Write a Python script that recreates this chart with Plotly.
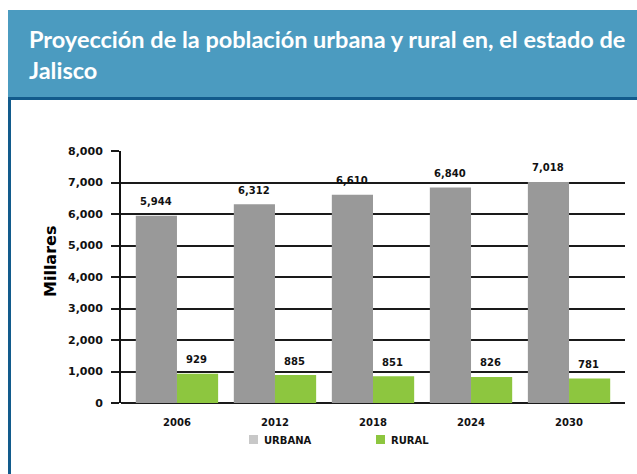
import plotly.graph_objects as go

# Population projection (thousands) for Jalisco
years = ["2006", "2012", "2018", "2024", "2030"]
urbana = [5944, 6312, 6610, 6840, 7018]
rural = [929, 885, 851, 826, 781]
y_ticks = [0, 1000, 2000, 3000, 4000, 5000, 6000, 7000, 8000]
series_names = ["URBANA", "RURAL"]

W, H = 637, 474
L, R, T, B = 121, 12, 151, 71
PW, PH = W - L - R, H - T - B


def px(x):
    return (x - L) / PW


def py(y):
    return (H - B - y) / PH


BAR_URB = "#999999"
BAR_RUR = "#8dc63f"
KEY_COLORS = ["#c8c8c8", BAR_RUR]
FONT = "DejaVu Sans"
LBL = dict(family=FONT, size=10, color="#111111", weight="bold")

fig = go.Figure()
fig.add_bar(x=years, y=urbana, name=series_names[0], marker_color=BAR_URB,
            marker_line_width=0, showlegend=False, hoverinfo="y")
fig.add_bar(x=years, y=rural, name=series_names[1], marker_color=BAR_RUR,
            marker_line_width=0, showlegend=False, hoverinfo="y")

annotations = []
for i in range(len(years)):
    annotations.append(dict(x=i - 0.21, y=urbana[i], xref="x", yref="y", text=f"{urbana[i]:,}",
                            showarrow=False, yshift=14, font=LBL))
    annotations.append(dict(x=i + 0.2, y=rural[i], xref="x", yref="y", text=f"{rural[i]:,}",
                            showarrow=False, yshift=14, font=LBL))

# header title
annotations.append(dict(
    x=px(27), y=py(54), xref="paper", yref="paper", xanchor="left", yanchor="middle",
    align="left", showarrow=False,
    text="Proyección de la población urbana y rural en, el estado de<br>Jalisco",
    font=dict(family="Lato", size=23.5, color="white", weight="bold"),
))
# axis title
annotations.append(dict(
    x=px(50), y=py(262), xref="paper", yref="paper", xanchor="center", yanchor="middle",
    textangle=-90, showarrow=False,
    text="Millares", font=dict(family=FONT, size=16, color="black", weight="bold"),
))

shapes = [
    dict(type="rect", xref="paper", yref="paper", x0=px(8), x1=px(W + 2), y0=py(97), y1=py(10),
         fillcolor="#4b9bc0", line_width=0, layer="below"),
    dict(type="rect", xref="paper", yref="paper", x0=px(8), x1=px(W + 2), y0=py(100), y1=py(97),
         fillcolor="#125b8c", line_width=0, layer="below"),
    dict(type="rect", xref="paper", yref="paper", x0=px(8), x1=px(11), y0=py(H + 2), y1=py(97),
         fillcolor="#125b8c", line_width=0, layer="below"),
]

# series key below the axis
for k, (nm, col) in enumerate(zip(series_names, KEY_COLORS)):
    x0 = 249 + 127 * k
    shapes.append(dict(type="rect", xref="paper", yref="paper",
                       x0=px(x0), x1=px(x0 + 9), y0=py(444), y1=py(435),
                       fillcolor=col, line_width=0))
    annotations.append(dict(x=px(x0 + 13), y=py(440), xref="paper", yref="paper",
                            xanchor="left", yanchor="middle", showarrow=False, text=nm,
                            font=dict(family=FONT, size=10, color="#111111", weight="bold")))

fig.update_layout(
    width=W, height=H,
    margin=dict(l=L, r=R, t=T, b=B),
    paper_bgcolor="white", plot_bgcolor="white",
    barmode="group", bargap=0.16, bargroupgap=0,
    showlegend=False,
    annotations=annotations, shapes=shapes,
    xaxis=dict(type="category", range=[-0.571, 4.571], showgrid=False, zeroline=False,
               showline=False, ticks="", ticklabelstandoff=12,
               tickfont=dict(family=FONT, size=10, color="#111111", weight="bold")),
    yaxis=dict(range=[0, 8000], tickvals=y_ticks, tickformat=",d",
               showgrid=True, gridcolor="#1a1a1a", gridwidth=2,
               zeroline=True, zerolinecolor="#1a1a1a", zerolinewidth=2,
               showline=True, linecolor="#111111", linewidth=2,
               ticks="outside", ticklen=8, tickwidth=2, tickcolor="#1a1a1a",
               ticklabelstandoff=6,
               tickfont=dict(family=FONT, size=11, color="#111111", weight="bold")),
)

fig.write_html("out.html")
